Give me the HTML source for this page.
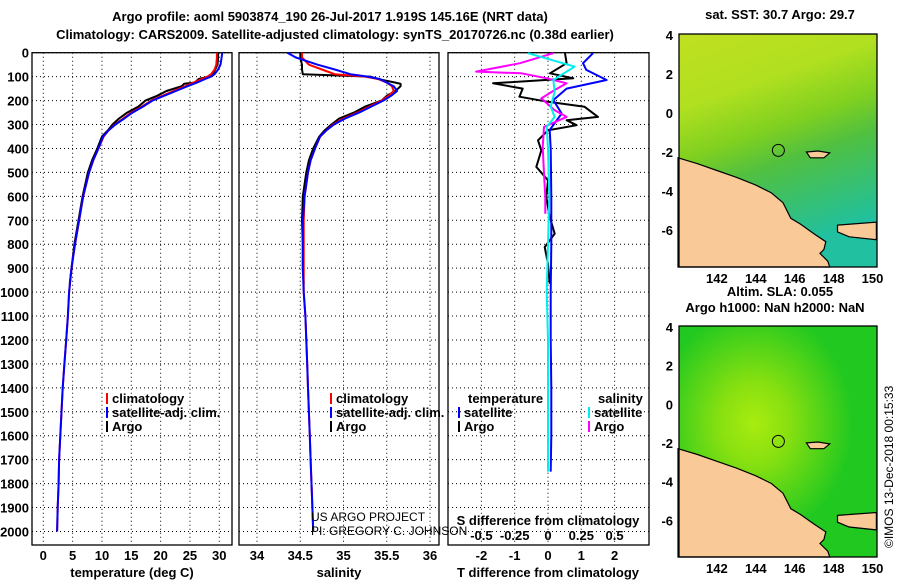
<!DOCTYPE html>
<html><head><meta charset="utf-8"><style>
html,body{margin:0;padding:0;background:#fff;}
svg{display:block;font-family:"Liberation Sans",sans-serif;}
.b{font-weight:bold;font-size:13px;}
</style></head><body>
<svg id="fig" width="900" height="580" viewBox="0 0 900 580">
<defs>
<linearGradient id="sstg" x1="0" y1="0" x2="0.3" y2="1">
<stop offset="0" stop-color="#c0e020"/><stop offset="0.3" stop-color="#b0e020"/><stop offset="0.5" stop-color="#80d020"/><stop offset="0.65" stop-color="#50c040"/><stop offset="1" stop-color="#20c0a0"/></linearGradient>
<radialGradient id="slag" cx="0.38" cy="0.42" r="0.5">
<stop offset="0" stop-color="#a8ec10"/><stop offset="0.35" stop-color="#88e010"/><stop offset="1" stop-color="#20c820"/></radialGradient>
</defs>
<text class="b" x="330" y="21" text-anchor="middle" font-size="14">Argo profile: aoml 5903874_190 26-Jul-2017 1.919S 145.16E (NRT data)</text>
<text class="b" x="335" y="39" text-anchor="middle" font-size="14">Climatology: CARS2009. Satellite-adjusted climatology: synTS_20170726.nc (0.38d earlier)</text>
<g id="p1"></g>
<g id="p2"></g>
<g id="p3"></g>
<g id="m1"></g>
<g id="m2"></g>
<text x="893" y="548" font-size="12" transform="rotate(-90 893 548)">©IMOS 13-Dec-2018 00:15:33</text>
</svg>
<script>
// depths (m)
const depthsT = [0,20,50,70,90,100,110,125,140,160,180,200,225,250,275,300,325,350,400,450,500,600,700,800,900,1000,1100,1200,1300,1400,1500,1600,1700,1800,1900,2000];
const tempClim = [29.6,29.6,29.5,29.2,28.6,28.0,27.0,25.6,24.2,22.2,20.3,18.4,16.8,15.0,13.6,12.2,11.1,10.3,9.4,8.5,7.8,6.8,6.1,5.4,4.8,4.4,4.2,3.9,3.6,3.3,3.1,2.9,2.7,2.6,2.45,2.35];
const tempSat = [30.5,30.4,30.2,29.8,29.2,28.6,27.6,26.2,24.6,22.6,20.6,18.6,17.0,15.2,13.8,12.3,11.1,10.2,9.4,8.5,7.8,6.8,6.1,5.4,4.8,4.4,4.2,3.9,3.6,3.3,3.1,2.9,2.7,2.6,2.45,2.35];
const depthsArgo = [0,20,50,70,90,100,110,125,130,140,160,180,200,225,250,275,300,325,350,400,450,500,600,700,800,900,965];
const tempArgo = [29.8,29.8,29.7,29.3,28.9,28.2,26.5,25.8,24.0,23.6,21.0,19.4,17.4,16.2,14.3,12.9,11.8,11.0,10.0,9.2,8.3,7.6,6.7,6.0,5.3,4.8,4.5];
const salClim = [34.52,34.52,34.6,34.75,34.9,35.25,35.4,35.5,35.56,35.58,35.52,35.44,35.3,35.16,35.0,34.88,34.8,34.73,34.67,34.62,34.59,34.55,34.54,34.54,34.54,34.54,34.56,34.57,34.58,34.59,34.6,34.61,34.62,34.63,34.64,34.65];
const salSat = [34.35,34.45,34.7,34.9,35.08,35.28,35.42,35.5,35.58,35.62,35.55,35.46,35.32,35.18,35.02,34.89,34.8,34.73,34.67,34.62,34.59,34.55,34.53,34.53,34.53,34.54,34.56,34.57,34.58,34.59,34.6,34.61,34.62,34.63,34.64,34.65];
const salArgo = [34.5,34.5,34.52,34.52,34.53,35.31,35.4,35.6,35.66,35.66,35.6,35.5,35.44,35.25,35.12,34.95,34.86,34.78,34.72,34.65,34.6,34.57,34.53,34.52,34.53,34.53,34.54];
// difference panel
const dDepthSatT = [2,44,72,114,150,198,254,323,400,600,800,1000,1200,1400,1600,1750];
const diffSatT = [1.35,1.05,1.15,1.76,0.56,0.16,0.41,0.05,0.08,0.1,0.1,0.08,0.08,0.1,0.1,0.08];
const dDepthSatS = [2,58,114,163,226,268,310,400,600,800,1000,1200,1400,1600,1750];
const diffSatS = [-0.15,0.2,0.04,0.05,0.02,0.05,-0.01,0,0.01,0,-0.01,0,0,0,0];
const dDepthArgoS = [2,44,79,86,107,128,156,191,240,268,310,394,505,603,673];
const diffArgoS = [0.04,-0.21,-0.54,-0.2,-0.01,0.14,0.05,-0.05,0.05,0.14,-0.03,-0.04,-0.03,-0.02,-0.02];
const dDepthArgoT = [2,44,86,107,128,150,184,205,226,268,282,303,324,366,408,477,533,603,686,756,812,881,965];
const diffArgoT = [0.51,0.56,0.06,0.76,-1.65,-0.76,-0.86,0,1.1,1.5,0.56,0.86,0,-0.3,-0.2,-0.35,0,-0.05,0.05,0.2,-0.1,0,0.05];
const depthTicks = [0,100,200,300,400,500,600,700,800,900,1000,1100,1200,1300,1400,1500,1600,1700,1800,1900,2000];
const tTicks = [0,5,10,15,20,25,30];
const sTicks = [34,34.5,35,35.5,36];
const dTTicks = [-2,-1,0,1,2];
const dSTicks = [-0.5,-0.25,0,0.25,0.5];
const latTicks = [4,2,0,-2,-4,-6];
const lonTicks = [142,144,146,148,150];
const argoLon = [145.16];
const argoLat = [-1.919];

const NS='http://www.w3.org/2000/svg';
function mk(parent,tag,attrs,text){const e=document.createElementNS(NS,tag);for(const k in attrs)e.setAttribute(k,attrs[k]);if(text!==undefined)e.textContent=text;parent.appendChild(e);return e;}
const yD = d => 52.7 + d*0.2394;
const xT = t => 43.3 + t*5.866;
const xS = s => 257 + (s-34)*86.5;
const xDT = t => 548 + t*33.3;
const xDS = s => 548 + s*133.2;
const TOP=52.7, BOT=545;

function frame(g,x0,x1,xticks,xf,name){
  const r=mk(g,'rect',{x:x0,y:TOP,width:x1-x0,height:BOT-TOP,fill:'none',stroke:'#000','stroke-width':1.3});
  
  
  depthTicks.forEach(d=>{
    const l=mk(g,'line',{x1:x0,x2:x1,y1:yD(d),y2:yD(d),stroke:'#000','stroke-dasharray':'1,3','stroke-width':1});
    
    
  });
  xticks.forEach(v=>{
    const l=mk(g,'line',{x1:xf(v),x2:xf(v),y1:TOP,y2:BOT,stroke:'#000','stroke-dasharray':'1,3','stroke-width':1});
    
    
  });
}
function line(g,xs,ds,xf,col,name,w){
  const pts=xs.map((v,i)=>xf(v).toFixed(1)+','+yD(ds[i]).toFixed(1)).join(' ');
  const p=mk(g,'polyline',{points:pts,fill:'none',stroke:col,'stroke-width':w||2,'stroke-linejoin':'round'});
  
  
}
function txt(g,x,y,s,anchor,name,cls,fs){
  const t=mk(g,'text',{x:x,y:y,'text-anchor':anchor||'start','class':cls===undefined?'b':cls,'font-size':fs||13},s);
  
  
  return t;
}
function legend(g,x,y,items){
  items.forEach((it,i)=>{
    const r=mk(g,'rect',{x:x,y:y+i*14-10,width:2,height:11,fill:it[1]});
    
    
    txt(g,x+6,y+i*14,it[0],'start','legend-entry');
  });
}
// panel 1
const p1=document.getElementById('p1');
frame(p1,32,232,tTicks,xT,'temperature');
depthTicks.forEach(d=>txt(p1,29,yD(d)+5,String(d),'end','depth-tick-label'));
tTicks.forEach(v=>txt(p1,xT(v),560,String(v),'middle','x-tick-label'));
txt(p1,132,577,'temperature (deg C)','middle','x-axis-title');
line(p1,tempArgo,depthsArgo,xT,'#000','argo-temperature-line');
line(p1,tempClim,depthsT,xT,'#f00','climatology-temperature-line');
line(p1,tempSat,depthsT,xT,'#00f','satellite-temperature-line');
legend(p1,106,403,[['climatology','#f00'],['satellite-adj. clim.','#00f'],['Argo','#000']]);
// panel 2
const p2=document.getElementById('p2');
frame(p2,239,439,sTicks,xS,'salinity');
sTicks.forEach(v=>txt(p2,xS(v),560,String(v),'middle','x-tick-label'));
txt(p2,339,577,'salinity','middle','x-axis-title');
line(p2,salArgo,depthsArgo,xS,'#000','argo-salinity-line');
line(p2,salClim,depthsT,xS,'#f00','climatology-salinity-line');
line(p2,salSat,depthsT,xS,'#00f','satellite-salinity-line');
legend(p2,330,403,[['climatology','#f00'],['satellite-adj. clim.','#00f'],['Argo','#000']]);
txt(p2,311,521,'US ARGO PROJECT','start','project-credit','',12);
txt(p2,311,535,'PI: GREGORY C. JOHNSON','start','pi-credit','',12);
// panel 3
const p3=document.getElementById('p3');
frame(p3,448,649,dTTicks,xDT,'difference');
dTTicks.forEach(v=>txt(p3,xDT(v),560,String(v),'middle','t-diff-tick-label'));
dSTicks.forEach(v=>txt(p3,xDS(v),540,String(v),'middle','s-diff-tick-label'));
txt(p3,548,577,'T difference from climatology','middle','t-diff-axis-title');
txt(p3,548,525,'S difference from climatology','middle','s-diff-axis-title');
line(p3,diffArgoT,dDepthArgoT,xDT,'#000','argo-t-diff-line');
line(p3,diffSatT,dDepthSatT,xDT,'#00f','satellite-t-diff-line');
line(p3,diffArgoS,dDepthArgoS,xDS,'#f0f','argo-s-diff-line');
line(p3,diffSatS,dDepthSatS,xDS,'#0ee','satellite-s-diff-line');
txt(p3,468,403,'temperature','start','legend-title-temperature');
txt(p3,598,403,'salinity','start','legend-title-salinity');
legend(p3,458,417,[['satellite','#00f'],['Argo','#000']]);
legend(p3,588,417,[['satellite','#0ee'],['Argo','#f0f']]);
// maps
const coast=[[140,-2.3],[141,-2.6],[142,-2.95],[143,-3.3],[144,-3.7],[144.8,-4.1],[145.4,-4.6],[145.8,-5.4],[146.3,-5.7],[147,-6.2],[147.6,-6.6],[147.5,-7.0],[147.3,-7.2],[147.7,-7.6],[147.8,-7.95],[140,-7.95]];
const isl1=[[146.6,-2.0],[147.2,-1.95],[147.8,-2.05],[147.5,-2.3],[146.8,-2.3]];
const isl2=[[148.2,-5.75],[150.2,-5.6],[150.2,-6.5],[148.8,-6.35],[148.2,-6.1]];
function map(id,y0,y1,fill,title1,title2){
  const g=document.getElementById(id);
  const X0=679,X1=877;
  const lx=v=>678+(v-140)*19.45;
  const ly=v=>y0+(4.05-v)*((y1-y0)/11.95);
  const bg=mk(g,'rect',{x:X0,y:y0,width:X1-X0,height:y1-y0,fill:fill});
  
  
  [coast,isl1,isl2].forEach(poly=>{
    const p=mk(g,'polygon',{points:poly.map(q=>Math.min(X1,lx(q[0])).toFixed(1)+','+Math.min(y1,ly(q[1])).toFixed(1)).join(' '),fill:'#f9c998',stroke:'#000','stroke-width':1.2});
    
    
  });
  const c=mk(g,'circle',{cx:lx(argoLon[0]),cy:ly(argoLat[0]),r:6,fill:'none',stroke:'#000','stroke-width':1});
  
  
  const fr=mk(g,'rect',{x:X0,y:y0,width:X1-X0,height:y1-y0,fill:'none',stroke:'#000','stroke-width':1.3});
  
  
  latTicks.forEach(v=>txt(g,673,ly(v)+5,String(v),'end','lat-tick-label'));
  lonTicks.forEach(v=>txt(g,lx(v),y1+16,String(v),'middle','lon-tick-label'));
  txt(g,780,title2?y0-30:y0-15,title1,'middle','map-title');
  if(title2) txt(g,775,y0-14,title2,'middle','map-subtitle');
}
map('m1',34,267,'url(#sstg)','sat. SST: 30.7 Argo: 29.7');
map('m2',326,557,'url(#slag)','Altim. SLA: 0.055','Argo h1000: NaN h2000: NaN');
</script>
</body></html>
